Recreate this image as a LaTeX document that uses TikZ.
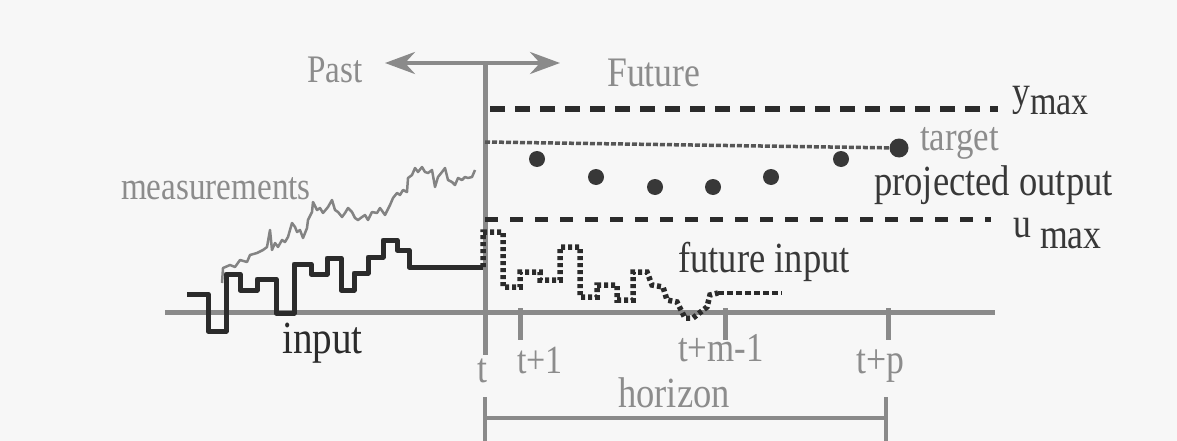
\documentclass[tikz,border=0pt]{standalone}
\usepackage{fontspec}
\setmainfont{Liberation Serif}[FakeStretch=0.85]
\usetikzlibrary{arrows.meta}
\definecolor{bgcol}{HTML}{F7F7F7}
\definecolor{axisgray}{HTML}{8A8A8A}
\definecolor{labelgray}{HTML}{8C8C8C}
\definecolor{darkline}{HTML}{2B2B2B}
\definecolor{darktext}{HTML}{383838}
\tikzset{
    lbl/.style = {
        inner sep=0pt,
        anchor=base west,
        font=\fontsize{#1}{#1}\selectfont
    },
    lbl/.default = 42,
    greylbl/.style = {lbl=#1, text=labelgray},
    greylbl/.default = 42,
    darklbl/.style = {lbl=#1, text=darktext},
    darklbl/.default = 42,
    timeline/.style = {draw=axisgray, line width=5pt},
    ticklines/.style = {draw=axisgray, line width=5pt},
    bracket/.style = {draw=axisgray, line width=4pt},
    timearrow/.style = {
        draw=axisgray,
        line width=4pt,
        {Stealth[length=30pt,width=22pt,inset=10pt]}-{Stealth[length=30pt,width=22pt,inset=10pt]}
    },
    limitline/.style = {draw=darkline, line width=6pt, dash pattern=on 15pt off 10pt},
    ulimitline/.style = {draw=darkline, line width=5pt, dash pattern=on 13pt off 12pt},
    targetline/.style = {draw=darktext!85, line width=3.5pt, dash pattern=on 5pt off 2pt},
    projdot/.style = {circle, fill=darktext, inner sep=0pt, minimum size=16pt},
    inputline/.style = {draw=darkline, line width=5pt, line join=round},
    futureline/.style = {draw=darkline, line width=5.5pt, dash pattern=on 4pt off 3pt},
    measline/.style = {draw=axisgray!95!black, line width=2.5pt, line join=round}
}

\begin{document}
\begin{tikzpicture}[x=1pt, y=-1pt]
    \fill[bgcol] (0,0) rectangle (1177,441);
    \useasboundingbox (0,0) rectangle (1177,441);

    % time axis, present instant and past/future arrow
    \coordinate (axL) at (165,312);
    \coordinate (axR) at (995,312);
    \coordinate (now) at (485,63);
    \coordinate (nowB) at (485,355);
    \coordinate (pastE) at (385,63);
    \coordinate (futE) at (560,63);
    \draw[timeline] (axL) -- (axR);
    \draw[timeline] (now) -- (nowB);
    \draw[timearrow] (pastE) -- (futE);

    % sample instants
    \coordinate (k1) at (520,308);
    \coordinate (km) at (725,308);
    \coordinate (kp) at (888,308);
    \draw[ticklines] (k1) -- ([yshift=-32pt]k1);
    \draw[ticklines] (km) -- ([yshift=-32pt]km);
    \draw[ticklines] (kp) -- ([yshift=-32pt]kp);

    % horizon bracket
    \coordinate (hL) at (485,418);
    \coordinate (hR) at (886,418);
    \draw[bracket] (hL) -- (hR);
    \draw[bracket] ([yshift=21pt]hL) -- ([yshift=-25pt]hL);
    \draw[bracket] ([yshift=21pt]hR) -- ([yshift=-25pt]hR);

    % output and input limits
    \coordinate (ymaxL) at (490,109);
    \coordinate (ymaxR) at (998,109);
    \coordinate (umaxL) at (485,219);
    \coordinate (umaxR) at (991,219);
    \draw[limitline] (ymaxL) -- (ymaxR);
    \draw[ulimitline] (umaxL) -- (umaxR);

    % projected output
    \foreach \i/\x/\y in {1/537/159, 2/596/177, 3/655/187, 4/713/187, 5/771/177, 6/841/159}
        \node[projdot] (d\i) at (\x,\y) {};
    \node[projdot, minimum size=19pt] (d7) at (899,148) {};
    \coordinate (tgL) at (485,142);
    \draw[targetline] (tgL) -- (d7);

    % measured output
    \draw[measline] (222,283) -- (223,268) -- (230,265) -- (235,267) -- (240,260) -- (247,262)
        -- (250,255) -- (257,253) -- (263,250) -- (267,247) -- (270,230) -- (272,250) -- (275,243)
        -- (278,247) -- (282,240) -- (285,242) -- (288,237) -- (292,223) -- (295,227) -- (297,232)
        -- (300,230) -- (303,238) -- (307,228) -- (308,220) -- (312,212) -- (313,202) -- (317,210)
        -- (320,208) -- (323,213) -- (328,207) -- (332,200) -- (335,210) -- (338,212) -- (342,217)
        -- (345,213) -- (348,208) -- (352,212) -- (355,218) -- (358,220) -- (362,217) -- (365,215)
        -- (368,220) -- (372,212) -- (377,213) -- (380,208) -- (385,215) -- (390,205) -- (393,198)
        -- (397,193) -- (400,195) -- (403,190) -- (407,192) -- (408,178) -- (412,175) -- (415,168)
        -- (418,172) -- (422,167) -- (425,172) -- (428,173) -- (432,170) -- (435,187) -- (438,177)
        -- (442,172) -- (445,168) -- (448,180) -- (452,182) -- (455,185) -- (458,178) -- (462,180)
        -- (465,177) -- (468,178) -- (472,177) -- (475,170);

    % past input
    \draw[inputline] (187,294) -| (208,331) -| (226,274) -| (240,290) -| (257,279) -| (276,313)
        -| (294,264) -| (311,274) -| (327,258) -| (341,290) -| (354,273) -| (368,257) -| (383,240)
        -| (397,250) -| (409,267) -- (483,267);

    % future input
    \draw[futureline] (483,267) |- (503,232) |- (520,287) |- (540,272) |- (560,280) |- (580,247)
        |- (597,297) |- (617,285) |- (633,300) |- (647,272) -- (652,285) -- (663,287) -- (667,300)
        -- (677,302) -- (685,318) -- (693,318) -- (707,307) -- (710,295) -- (718,293);
    \draw[futureline, line width=3.5pt, dash pattern=on 6pt off 3pt] (718,293) -- (782,293);

    % labels
    \node[greylbl=39] (past) at (307,83) {Past};
    \node[greylbl=42] (future) at (607,87) {Future};
    \node[darklbl=42] (ymax) at (1012,106) {y\raisebox{-9pt}{\fontsize{40}{40}\selectfont max}};
    \node[greylbl=41] (target) at (920,150) {target};
    \node[darklbl=43] (proj) at (874,195) {projected output};
    \node[darklbl=42] (umax) at (1013,237) {u\hspace{9pt}\raisebox{-11pt}{max}};
    \node[greylbl=39] (meas) at (121,199) {measurements};
    \node[darklbl=43] (futin) at (678,272) {future input};
    \node[lbl=46, text=darkline] (input) at (282,353) {input};
    \node[greylbl=42] (tlab) at (477,382) {t};
    \node[greylbl=40] (t1lab) at (517,373) {t+1};
    \node[greylbl=41] (tmlab) at (678,361) {t+m-1};
    \node[greylbl=42] (tplab) at (856,373) {t+p};
    \node[greylbl=43] (horizon) at (618,407) {horizon};
\end{tikzpicture}
\end{document}
